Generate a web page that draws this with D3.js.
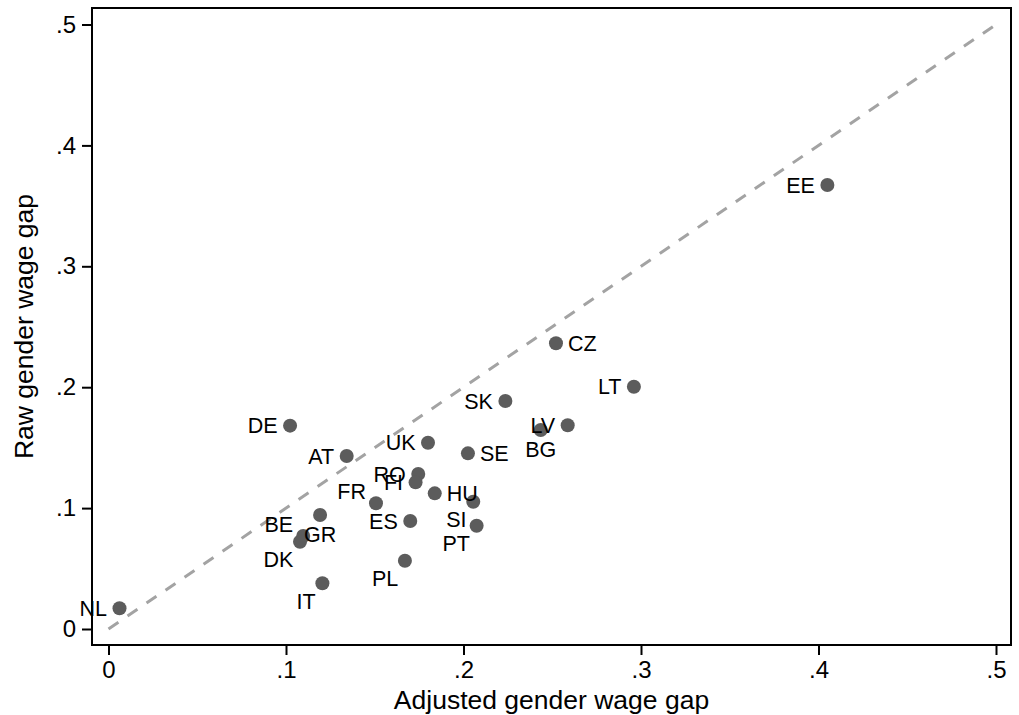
<!DOCTYPE html>
<html>
<head>
<meta charset="utf-8">
<script src="https://cdn.jsdelivr.net/npm/d3@7"></script>
<style>
  body { margin: 0; background: #fff; }
  svg { display: block; font-family: "Liberation Sans", Arial, sans-serif; }
</style>
</head>
<body>
<svg id="chart"></svg>
<script>
// country codes, adjusted gap (x), raw gap (y), label clock position
const countries = ["NL","DE","AT","UK","RO","FI","FR","HU","SI","PT","ES","BE","DK","GR","PL","IT","SE","SK","BG","LV","CZ","LT","EE"];
const adjustedGap = [0.0062,0.1023,0.1342,0.180,0.1745,0.173,0.1507,0.1838,0.2055,0.2074,0.170,0.1097,0.1079,0.1192,0.167,0.1205,0.2025,0.2236,0.2435,0.2587,0.2521,0.296,0.405];
const rawGap = [0.0172,0.1682,0.1431,0.1541,0.1282,0.1213,0.1040,0.1122,0.1053,0.0854,0.0893,0.0769,0.0722,0.0943,0.0565,0.0378,0.1453,0.1886,0.1646,0.1685,0.2363,0.2004,0.3672];
const labelClock = [9,9,9,9,9,9,10,3,7,7,9,10,7,6,7,7,3,9,6,9,3,9,9];
const tickValues = [0, 0.1, 0.2, 0.3, 0.4, 0.5];
const tickLabels = ["0", ".1", ".2", ".3", ".4", ".5"];
const xTitle = "Adjusted gender wage gap";
const yTitle = "Raw gender wage gap";

const width = 1019, height = 715;
const frame = { left: 92, right: 1011, top: 8, bottom: 645 };

const svg = d3.select("#chart").attr("width", width).attr("height", height);
svg.append("rect").attr("width", width).attr("height", height).attr("fill", "#fff");

const x = d3.scaleLinear().domain([0, 0.5]).range([108.5, 996]);
const y = d3.scaleLinear().domain([0, 0.5]).range([629, 24.5]);

const data = countries.map((c, i) => ({ code: c, x: adjustedGap[i], y: rawGap[i], clock: labelClock[i] }));

// 45 degree line
svg.append("line")
    .attr("x1", x(0)).attr("y1", y(0))
    .attr("x2", x(0.5)).attr("y2", y(0.5))
    .attr("stroke", "#a3a3a3")
    .attr("stroke-width", 3)
    .attr("stroke-dasharray", "12,11");

// axes
const fmt = d => tickLabels[tickValues.indexOf(d)];
const xAxis = d3.axisBottom(x).tickValues(tickValues).tickFormat(fmt).tickSize(10).tickSizeOuter(0).tickPadding(6);
const yAxis = d3.axisLeft(y).tickValues(tickValues).tickFormat(fmt).tickSize(10).tickSizeOuter(0).tickPadding(6);

const gx = svg.append("g").attr("transform", `translate(0,${frame.bottom})`).call(xAxis);
const gy = svg.append("g").attr("transform", `translate(${frame.left},0)`).call(yAxis);
[gx, gy].forEach(g => {
  g.select(".domain").remove();
  g.selectAll(".tick line").attr("stroke", "#000").attr("stroke-width", 2);
  g.selectAll(".tick text").attr("fill", "#000").style("font-size", "24px");
});

// plot frame
svg.append("rect")
    .attr("x", frame.left).attr("y", frame.top)
    .attr("width", frame.right - frame.left)
    .attr("height", frame.bottom - frame.top)
    .attr("fill", "none")
    .attr("stroke", "#000")
    .attr("stroke-width", 2);

// points
svg.append("g").selectAll("circle")
  .data(data)
  .enter()
  .append("circle")
    .attr("cx", d => x(d.x))
    .attr("cy", d => y(d.y))
    .attr("r", 7)
    .attr("fill", "#5c5c5c");

// marker labels placed by clock position
const fs = 21.5, cap = fs * 0.716;
const place = {
  3: { anchor: "start", dx: 12, dy: 0 },
  9: { anchor: "end", dx: -12.5, dy: 0 },
  6: { anchor: "middle", dx: 0, dy: 19 },
  7: { anchor: "end", dx: -6.7, dy: 17.6 },
  10: { anchor: "end", dx: -10, dy: -12 }
};
svg.append("g").selectAll("text")
  .data(data)
  .enter()
  .append("text")
    .attr("x", d => x(d.x) + place[d.clock].dx)
    .attr("y", d => y(d.y) + place[d.clock].dy + cap / 2)
    .attr("text-anchor", d => place[d.clock].anchor)
    .style("font-size", fs + "px")
    .attr("fill", "#000")
    .text(d => d.code);

// axis titles
svg.append("text")
    .attr("x", (frame.left + frame.right) / 2)
    .attr("y", 709)
    .attr("text-anchor", "middle")
    .style("font-size", "26.5px")
    .text(xTitle);

svg.append("text")
    .attr("transform", `translate(33,${(frame.top + frame.bottom) / 2}) rotate(-90)`)
    .attr("text-anchor", "middle")
    .style("font-size", "26.5px")
    .text(yTitle);
</script>
</body>
</html>
